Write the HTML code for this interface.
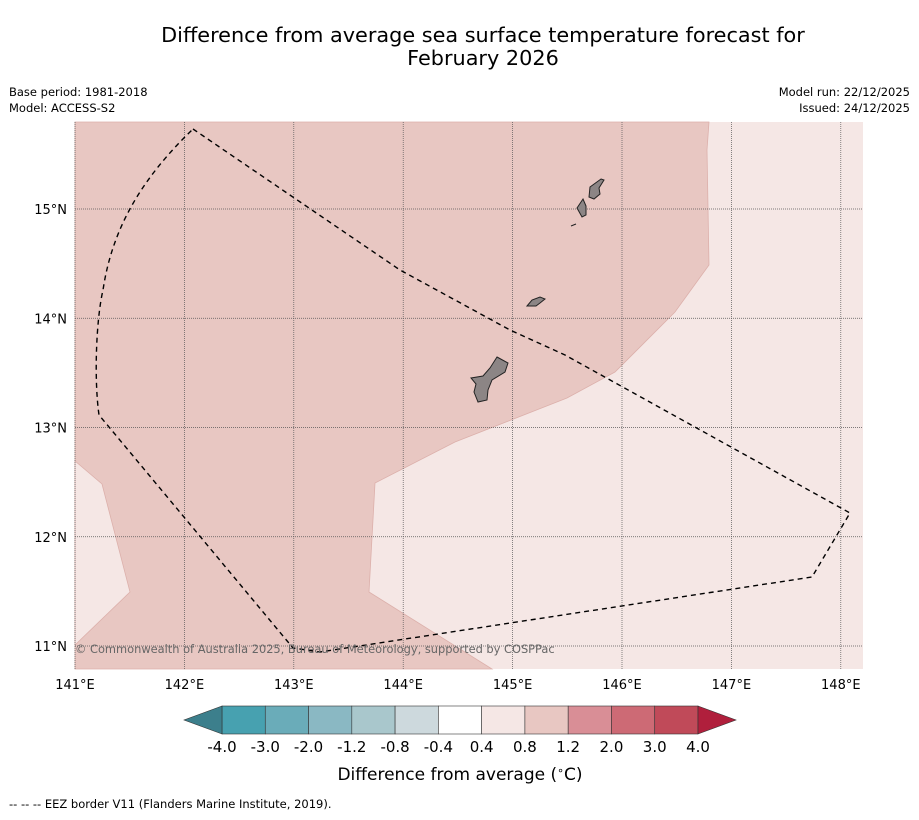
<!DOCTYPE html>
<html><head><meta charset="utf-8">
<style>
body{margin:0;background:#fff;width:919px;height:816px;overflow:hidden;font-family:"DejaVu Sans","Liberation Sans",sans-serif;}
</style></head>
<body>
<svg id="chart" width="919" height="816" xmlns="http://www.w3.org/2000/svg" font-family="DejaVu Sans, Liberation Sans, sans-serif">
<text x="483" y="42" text-anchor="middle" font-size="20.8">Difference from average sea surface temperature forecast for</text>
<text x="483" y="65" text-anchor="middle" font-size="20.8">February 2026</text>
<text x="9" y="96" font-size="11.5">Base period: 1981-2018</text>
<text x="9" y="112" font-size="11.5">Model: ACCESS-S2</text>
<text x="910" y="96" font-size="11.5" text-anchor="end">Model run: 22/12/2025</text>
<text x="910" y="112" font-size="11.5" text-anchor="end">Issued: 24/12/2025</text>
<g id="map">
<rect x="75" y="122" width="788" height="547" fill="#f5e7e5"/>
<polygon fill="#e8c7c2" stroke="#dcb0ab" stroke-width="0.8" points="75,122 709,122 707,150 709,265 675,312 615,372 567,398 455,442 375,483 369,592 492,669 75,669"/>
<polygon fill="#f5e7e5" stroke="#dcb0ab" stroke-width="0.8" points="75,461 102,484 130,592 75,645"/>
<g id="grid"></g>
<path fill="#8c8585" stroke="#222" stroke-width="1" d="M497,357 L508,363 L505,372 L492,380 L488,390 L487,400 L478,402 L474,392 L476,384 L471,378 L483,376 L490,368 Z"/>
<path fill="#8c8585" stroke="#222" stroke-width="1" d="M527,306 L532,300 L540,297 L545,299 L540,303 L536,306 Z"/>
<path fill="#8c8585" stroke="#222" stroke-width="1" d="M583,199 L586,206 L586,215 L582,217 L577,208 Z"/>
<path fill="#8c8585" stroke="#222" stroke-width="1" d="M601,179 L604,180 L599,188 L600,194 L594,199 L589,197 L590,187 Z"/>
<path fill="none" stroke="#222" stroke-width="1" d="M571,226 L576,224"/>
<path fill="none" stroke="#000" stroke-width="1.4" stroke-dasharray="5,4" d="M193,129 L400,270 L510,330 L565,355 L850,513 L812,577 L320,652 L293,648 L99,415 C94,380 96,320 103,290 C112,230 140,180 193,129"/>
<text x="75" y="653" font-size="11.4" fill="#666">© Commonwealth of Australia 2025, Bureau of Meteorology, supported by COSPPac</text>
</g>
<g id="axes"></g>
<g id="cbar"></g>
<text x="460" y="780" text-anchor="middle" font-size="17">Difference from average (<tspan font-size="11" dy="-6">∘</tspan><tspan dy="6">C)</tspan></text>
<text x="9" y="808" font-size="11.5">--  --  -- EEZ border V11 (Flanders Marine Institute, 2019).</text>
</svg>
<script>
const lonTicks=[141,142,143,144,145,146,147,148];
const latTicks=[11,12,13,14,15];
const cbarLabels=["-4.0","-3.0","-2.0","-1.2","-0.8","-0.4","0.4","0.8","1.2","2.0","3.0","4.0"];
const cbarColors=["#47a1b0","#6aacb9","#8ab8c3","#a9c7cc","#cdd9dd","#ffffff","#f5e7e5","#e8c7c2","#d98e96","#cd6a75","#c04a59"];
const cbarEnds=["#3c7f8c","#b01f3c"];
const NS="http://www.w3.org/2000/svg";
const xOf=lon=>75+(lon-141)*109.4;
const yOf=lat=>209+(15-lat)*109.25;
function mk(t,a,p){const e=document.createElementNS(NS,t);for(const k in a)e.setAttribute(k,a[k]);p.appendChild(e);return e;}
const grid=document.getElementById('grid'),axes=document.getElementById('axes');
lonTicks.forEach(l=>{const x=xOf(l);
 const g=mk('line',{x1:x,x2:x,y1:122,y2:669,stroke:'#555','stroke-width':0.7,'stroke-dasharray':'1,1'},grid);
 
 
 const t=mk('text',{x:x,y:689,'text-anchor':'middle','font-size':13},axes);t.textContent=l+'°E';
 
 });
latTicks.forEach(l=>{const y=yOf(l);
 const g=mk('line',{x1:75,x2:863,y1:y,y2:y,stroke:'#555','stroke-width':0.7,'stroke-dasharray':'1,1'},grid);
 
 
 const t=mk('text',{x:67,y:y+5,'text-anchor':'end','font-size':13},axes);t.textContent=l+'°N';
 
 });
const cb=document.getElementById('cbar');
const x0=222,x1=698,y0=706,y1=734,w=(x1-x0)/cbarColors.length;
cbarColors.forEach((c,i)=>{const r=mk('rect',{x:x0+i*w,y:y0,width:w,height:y1-y0,fill:c,stroke:'#333','stroke-width':0.6},cb);
 
 });
const lt=mk('polygon',{points:`${x0},${y0} 184,${(y0+y1)/2} ${x0},${y1}`,fill:cbarEnds[0],stroke:'#333','stroke-width':0.6},cb);


const rt=mk('polygon',{points:`${x1},${y0} 736,${(y0+y1)/2} ${x1},${y1}`,fill:cbarEnds[1],stroke:'#333','stroke-width':0.6},cb);


cbarLabels.forEach((s,i)=>{const t=mk('text',{x:x0+i*w,y:752,'text-anchor':'middle','font-size':15},cb);t.textContent=s;
 
 });
</script>
</body></html>
